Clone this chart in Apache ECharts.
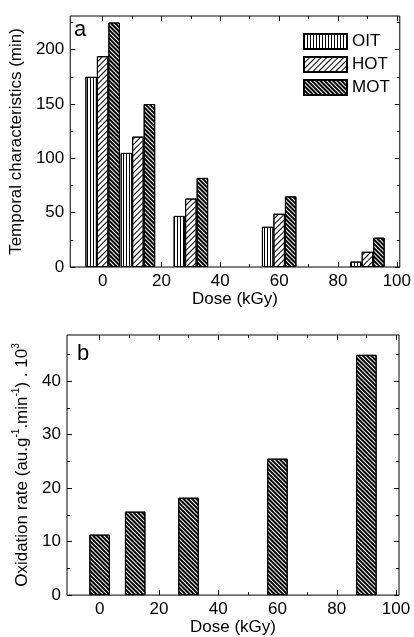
<!DOCTYPE html>
<html lang="en">

<head>
  <meta charset="UTF-8">
  <title>Dose effect</title>
  <script src="https://cdn.jsdelivr.net/npm/echarts@6/dist/echarts.min.js"></script>
  <style>
    html, body { margin: 0; padding: 0; background: #fff; }
    #echarts { width: 414px; height: 637px; }
  </style>
</head>

<body>
  <div id="echarts"></div>
</body>

</html>
<script>
  // data
  const doses = [0, 12, 30, 60, 90];
  const oit = [175, 105, 47, 37, 5];
  const hot = [194, 120, 63, 49, 14];
  const mot = [225, 150, 82, 65, 27];
  const oxidationRate = [11.3, 15.6, 18.2, 25.5, 44.9];

  const doseTicks = [0, 20, 40, 60, 80, 100];
  const doseMinor = [10, 30, 50, 70, 90];
  const timeTicks = [0, 50, 100, 150, 200];
  const timeMinor = [25, 75, 125, 175, 225];
  const rateTicks = [0, 10, 20, 30, 40];
  const rateMinor = [5, 15, 25, 35, 45];

  const font = 'Liberation Sans, Arial, sans-serif';
  let myChart = echarts.init(document.getElementById('echarts'));

  function pairs(ys) {
    return doses.map((d, i) => [d, ys[i]]);
  }

  // one axis of ticks (major or minor) on one side of a grid
  function tickAxis(grid, position, min, max, values, len, labels) {
    return {
      type: 'value',
      gridIndex: grid,
      position: position,
      min: min,
      max: max,
      splitLine: { show: false },
      axisLine: { show: false, onZero: false },
      axisTick: { show: true, inside: true, length: len, customValues: values, lineStyle: { color: '#000' } },
      axisLabel: labels ? { show: true, customValues: values, color: '#000', fontSize: 17, fontFamily: font, margin: 6 } : { show: false }
    };
  }

  function frame(grid, dim, min, max, major, minor) {
    let a = dim === 'x' ? ['bottom', 'top'] : ['left', 'right'];
    return [
      tickAxis(grid, a[0], min, max, major, 5, true),
      tickAxis(grid, a[0], min, max, minor, 3, false),
      tickAxis(grid, a[1], min, max, major, 5, false),
      tickAxis(grid, a[1], min, max, minor, 3, false)
    ];
  }

  let xAxes = frame(0, 'x', -11, 101, doseTicks, doseMinor).concat(frame(1, 'x', -11, 101, doseTicks, doseMinor));
  let yAxes = frame(0, 'y', 0, 231, timeTicks, timeMinor).concat(frame(1, 'y', 0, 48.6, rateTicks, rateMinor));

  Object.assign(xAxes[0], {
    name: 'Dose (kGy)', nameLocation: 'middle', nameGap: 22,
    nameTextStyle: { color: '#000', fontSize: 17, fontFamily: font }
  });
  Object.assign(xAxes[4], {
    name: 'Dose (kGy)', nameLocation: 'middle', nameGap: 21,
    nameTextStyle: { color: '#000', fontSize: 17, fontFamily: font }
  });
  Object.assign(yAxes[0], {
    name: 'Temporal characteristics (min)', nameLocation: 'middle', nameGap: 30,
    nameTextStyle: { color: '#000', fontSize: 17, fontFamily: font }
  });
  Object.assign(yAxes[4], {
    name: '{a|Oxidation rate (au.g}{s|-1}{a|.min}{s|-1}{a|) . 10}{s|3}',
    nameLocation: 'middle', nameGap: 25,
    nameTextStyle: {
      color: '#000', fontSize: 17, fontFamily: font,
      rich: {
        a: { fontSize: 17, fontFamily: font, color: '#000', lineHeight: 22 },
        s: { fontSize: 10, fontFamily: font, color: '#000', verticalAlign: 'top', lineHeight: 22 }
      }
    }
  });

  const oitDecal = { symbol: 'rect', symbolSize: 1, color: '#000', dashArrayX: [1, 2], dashArrayY: [1, 0], rotation: 0 };
  const hotDecal = { symbol: 'rect', symbolSize: 1, color: '#000', dashArrayX: [1, 0], dashArrayY: [1, 2.5], rotation: -Math.PI / 4 };
  const motDecal = { symbol: 'rect', symbolSize: 1, color: '#000', dashArrayX: [1, 0], dashArrayY: [1.2, 0.9], rotation: Math.PI / 4 };

  function bar(name, ys, decal, xi, yi, w) {
    return {
      name: name,
      type: 'bar',
      xAxisIndex: xi,
      yAxisIndex: yi,
      barWidth: w,
      barGap: '0%',
      data: ys,
      itemStyle: { color: '#fff', borderColor: '#000', borderWidth: 1, decal: decal },
      emphasis: { disabled: true }
    };
  }

  myChart.setOption({
    animation: false,
    grid: [
      { left: 67, top: 16, right: 12, bottom: 370, show: true, borderColor: '#000', borderWidth: 1 },
      { left: 67, top: 335, right: 15, bottom: 38, show: true, borderColor: '#000', borderWidth: 1 }
    ],
    legend: {
      left: 298,
      top: 28,
      orient: 'vertical',
      itemWidth: 43,
      itemHeight: 15,
      itemGap: 6,
      icon: 'rect',
      textStyle: { color: '#000', fontSize: 17, fontFamily: font },
      data: ['OIT', 'HOT', 'MOT']
    },
    graphic: [
      { type: 'text', left: 74, top: 19, style: { text: 'a', fontSize: 22, fontFamily: font, fill: '#000' } },
      { type: 'text', left: 77, top: 343, style: { text: 'b', fontSize: 22, fontFamily: font, fill: '#000' } }
    ],
    xAxis: xAxes,
    yAxis: yAxes,
    series: [
      bar('OIT', pairs(oit), oitDecal, 0, 0, 11.5),
      bar('HOT', pairs(hot), hotDecal, 0, 0, 11.5),
      bar('MOT', pairs(mot), motDecal, 0, 0, 11.5),
      bar('rate', pairs(oxidationRate), motDecal, 4, 4, 20.5)
    ]
  });
</script>
